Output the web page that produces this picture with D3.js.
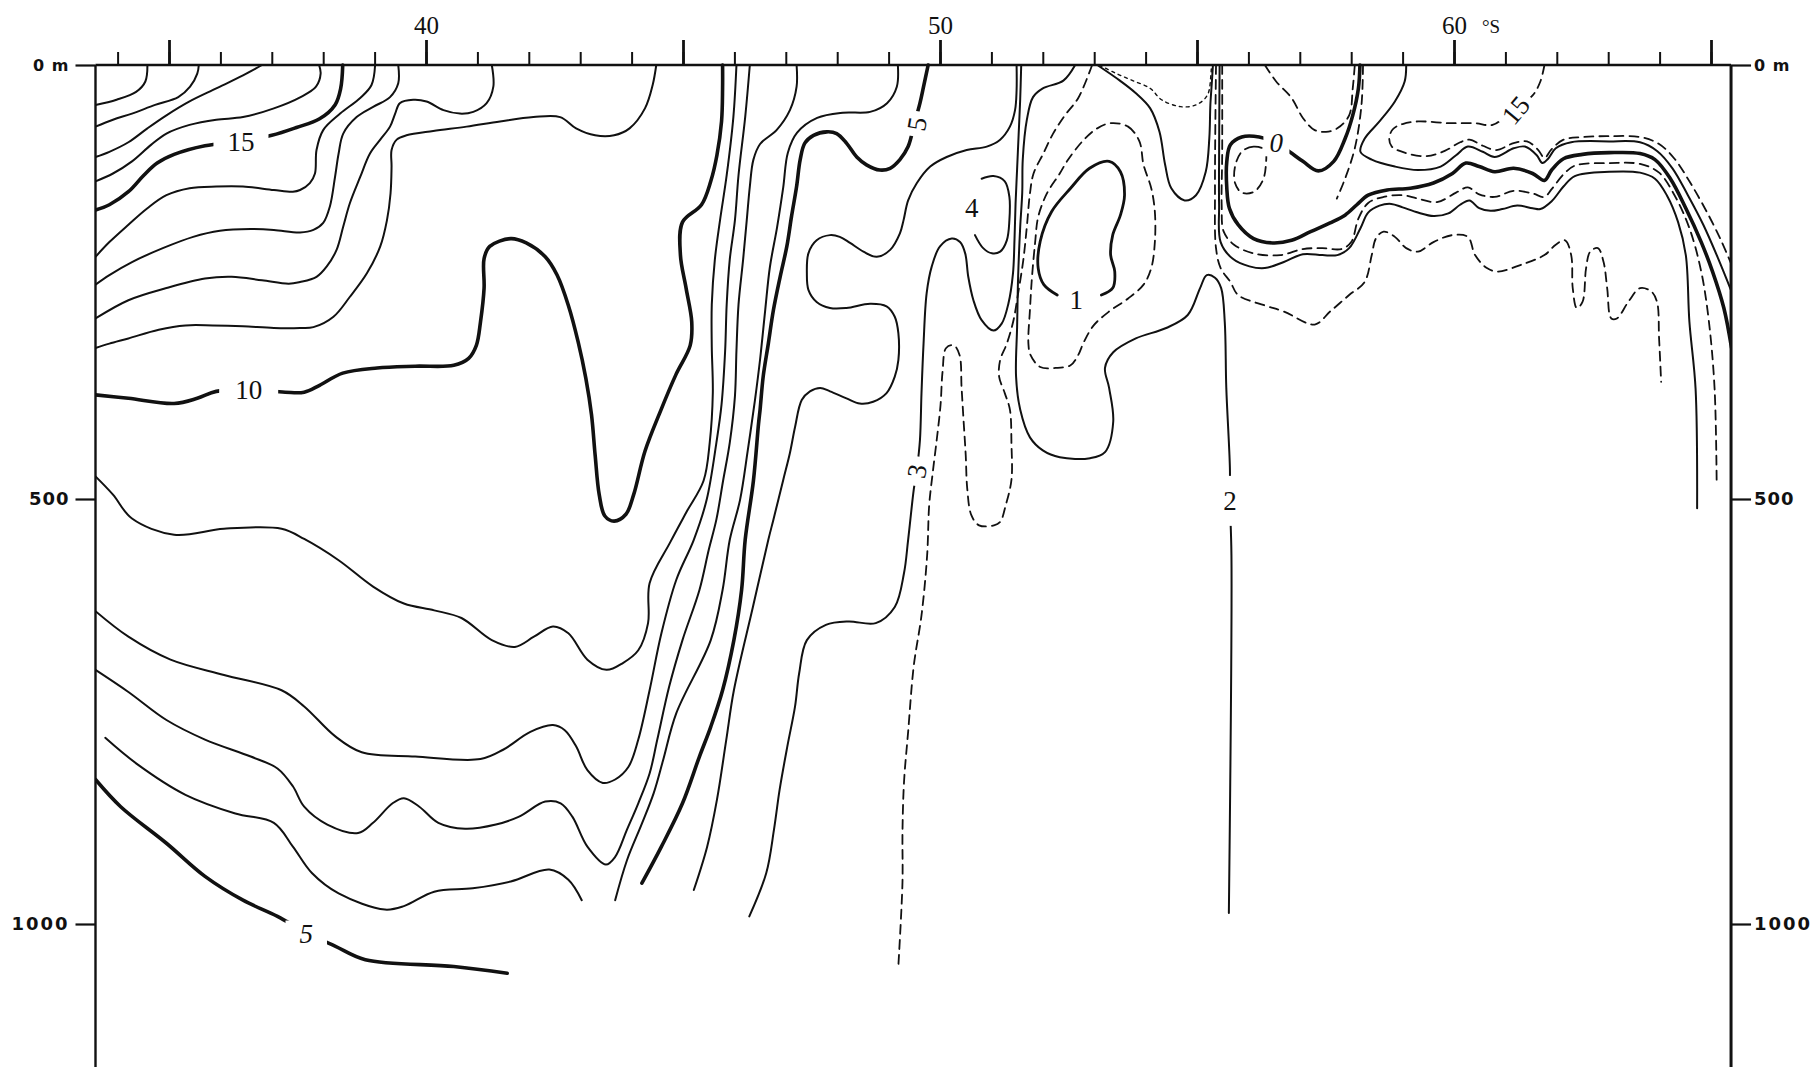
<!DOCTYPE html>
<html>
<head>
<meta charset="utf-8">
<title>Temperature section</title>
<script src="https://cdn.jsdelivr.net/npm/d3@7"></script>
<style>
  body { margin: 0; background: #fff; }
  svg { display: block; }
</style>
</head>
<body>
<div id="chart"></div>
<script>
// section limits and ticks
const latExtent = [33.57, 65.39]
const depthBottom = 1170
const minorLats = d3.range(34, 66)
const majorLats = [35, 40, 45, 50, 55, 60, 65]
const labelLats = [40, 50, 60]
const depthTicks = [0, 500, 1000]

const t19 = [[34.58,0],[34.54,19],[34.36,31],[33.98,40],[33.57,46]]
const t18 = [[35.58,0],[35.55,10],[35.41,25],[35.18,37],[34.73,46],[34.28,56],[33.91,63],[33.57,71]]
const t17 = [[36.81,0],[36.44,12],[35.92,27],[35.40,42],[34.95,58],[34.58,73],[34.21,89],[33.84,100],[33.57,106]]
const t16 = [[37.92,0],[37.95,10],[37.86,25],[37.56,37],[37.04,50],[36.44,60],[35.92,63],[35.40,69],[34.95,79],[34.65,92],[34.28,111],[33.91,125],[33.57,134]]
const t15 = [[38.38,0],[38.34,27],[38.23,46],[37.93,62],[37.48,72],[37.00,81],[36.40,88],[35.70,93],[35.10,103],[34.77,113],[34.51,127],[34.21,146],[33.84,161],[33.57,167]]
const t14 = [[39.01,0],[38.94,23],[38.72,38],[38.33,56],[38.00,75],[37.87,98],[37.84,125],[37.74,136],[37.55,144],[37.41,146],[37.04,144],[36.44,140],[35.92,140],[35.40,142],[34.95,150],[34.58,165],[34.21,184],[33.84,204],[33.57,221]]
const t13 = [[39.46,0],[39.46,21],[39.30,37],[38.98,48],[38.65,60],[38.39,79],[38.30,102],[38.23,129],[38.13,163],[38.00,182],[37.81,190],[37.55,193],[37.04,190],[36.59,189],[35.99,191],[35.47,198],[34.88,211],[34.28,227],[33.84,242],[33.57,253]]
const t12 = [[41.28,0],[41.31,25],[41.18,44],[40.92,54],[40.66,56],[40.34,52],[40.01,42],[39.75,40],[39.49,44],[39.40,56],[39.30,71],[39.11,86],[38.91,102],[38.72,129],[38.52,159],[38.39,186],[38.26,213],[38.07,232],[37.87,244],[37.55,250],[37.33,252],[36.81,248],[36.22,244],[35.70,246],[34.95,257],[34.21,271],[33.57,292]]
const t11 = [[44.48,0],[44.41,23],[44.26,50],[43.96,73],[43.66,81],[43.29,81],[42.92,73],[42.61,60],[42.09,60],[41.44,65],[40.79,71],[40.14,76],[39.62,81],[39.43,86],[39.33,98],[39.33,117],[39.31,148],[39.24,179],[39.11,209],[38.85,240],[38.52,267],[38.20,290],[37.81,302],[37.55,303],[37.04,303],[36.44,301],[35.85,300],[35.32,300],[34.80,305],[34.21,315],[33.84,321],[33.57,326]]
const t10 = [[33.57,380],[34.21,384],[35.10,390],[35.55,384],[35.92,376],[36.55,374],[37.26,377],[37.63,377],[37.93,369],[38.38,355],[39.05,349],[39.79,347],[40.54,346],[40.83,338],[40.98,323],[41.06,296],[41.13,257],[41.13,223],[41.24,209],[41.65,200],[41.95,205],[42.32,221],[42.55,242],[42.77,277],[42.96,319],[43.11,361],[43.22,403],[43.29,449],[43.37,495],[43.48,520],[43.66,526],[43.89,518],[44.04,495],[44.26,445],[44.56,399],[44.86,357],[45.14,323],[45.17,296],[45.06,257],[44.95,219],[44.99,181],[45.36,161],[45.54,134],[45.66,104],[45.75,65],[45.77,27],[45.77,0]]
const t9 = [[46.04,0],[45.98,60],[45.85,127],[45.72,179],[45.62,224],[45.56,276],[45.56,325],[45.58,378],[45.52,435],[45.40,479],[45.07,515],[44.75,551],[44.35,599],[44.32,646],[44.13,678],[43.83,693],[43.51,701],[43.14,689],[42.77,658],[42.47,650],[42.10,662],[41.73,674],[41.28,666],[40.69,640],[40.16,631],[39.57,623],[38.97,603],[38.30,572],[37.63,547],[37.19,535],[36.07,535],[35.10,542],[34.28,523],[33.91,495],[33.57,474]]
const t8 = [[46.30,0],[46.21,60],[46.08,127],[46.01,179],[45.91,224],[45.85,276],[45.82,329],[45.75,391],[45.65,435],[45.46,501],[45.21,548],[44.87,595],[44.58,658],[44.35,725],[44.13,783],[43.94,815],[43.68,830],[43.44,834],[43.14,819],[42.92,791],[42.70,772],[42.47,766],[42.03,774],[41.50,795],[41.06,806],[39.79,803],[38.75,798],[38.23,779],[37.63,744],[37.19,725],[36.07,707],[35.03,689],[34.21,662],[33.57,632]]
const t7 = [[47.21,0],[47.21,25],[47.08,52],[46.82,75],[46.50,91],[46.37,109],[46.30,140],[46.24,179],[46.17,224],[46.08,276],[46.04,329],[46.01,382],[45.91,435],[45.78,479],[45.65,524],[45.50,560],[45.32,607],[44.99,666],[44.73,721],[44.50,783],[44.35,823],[44.13,858],[43.91,889],[43.68,921],[43.50,930],[43.14,909],[42.85,874],[42.62,858],[42.32,856],[41.80,874],[41.36,883],[40.76,888],[40.24,881],[39.87,862],[39.57,852],[39.35,858],[38.97,881],[38.68,893],[38.08,883],[37.63,862],[37.41,838],[37.11,817],[36.59,803],[35.70,783],[34.95,760],[34.21,727],[33.57,701]]
const t6 = [[49.18,0],[49.16,25],[48.97,44],[48.64,54],[48.11,55],[47.61,61],[47.22,78],[47.04,101],[46.95,141],[46.83,187],[46.69,233],[46.60,282],[46.50,339],[46.40,386],[46.26,444],[46.11,501],[45.91,548],[45.77,607],[45.54,666],[44.87,752],[44.61,808],[44.43,846],[44.20,882],[43.91,925],[43.68,972]]
const t6West = [[33.76,781],[34.36,811],[35.32,848],[36.29,870],[37.04,881],[37.41,909],[37.78,940],[38.30,964],[39.20,983],[39.57,979],[40.16,962],[40.91,958],[41.65,950],[42.40,936],[42.77,948],[43.03,972]]
const t5 = [[49.77,0],[49.68,25],[49.61,44],[49.50,68],[49.38,94],[49.22,109],[49.03,119],[48.83,121],[48.57,115],[48.38,106],[48.18,90],[47.99,79],[47.80,77],[47.54,81],[47.37,90],[47.28,109],[47.21,140],[47.11,175],[47.02,209],[46.89,244],[46.76,282],[46.66,321],[46.56,359],[46.50,397],[46.47,413],[46.37,479],[46.21,548],[46.14,607],[45.99,666],[45.77,725],[45.54,768],[45.32,803],[44.99,858],[44.58,909],[44.20,952]]
const t5West = [[33.57,830],[34.06,862],[34.95,905],[35.70,944],[36.44,972],[37.11,991],[37.67,1010],[38.23,1026],[38.82,1042],[40.54,1050],[41.58,1058]]
const t4 = [[51.49,0],[51.49,29],[51.46,52],[51.36,71],[51.17,86],[50.91,94],[50.52,98],[50.13,106],[49.81,117],[49.55,136],[49.38,156],[49.29,179],[49.22,194],[49.03,213],[48.77,221],[48.51,215],[48.25,205],[48.05,198],[47.86,196],[47.60,202],[47.44,217],[47.41,240],[47.44,259],[47.60,273],[47.86,280],[48.18,280],[48.64,275],[48.96,278],[49.12,290],[49.19,309],[49.19,340],[49.12,359],[48.96,378],[48.70,388],[48.44,390],[48.18,384],[47.86,376],[47.67,372],[47.47,376],[47.31,386],[47.18,417],[47.08,447],[46.95,478],[46.76,524],[46.66,548],[46.36,627],[45.99,725],[45.84,784],[45.66,854],[45.47,909],[45.21,960]]
const t4Cell = [[50.81,131],[51.04,128],[51.26,134],[51.35,152],[51.35,179],[51.30,202],[51.17,215],[51.01,217],[50.84,211],[50.68,196]]
const t3 = [[46.29,991],[46.62,940],[46.77,889],[46.88,842],[47.03,791],[47.18,744],[47.26,705],[47.41,666],[47.78,648],[48.22,644],[48.75,646],[49.12,627],[49.30,587],[49.38,548],[49.49,489],[49.55,466],[49.61,432],[49.64,378],[49.68,321],[49.74,263],[49.84,232],[50.00,209],[50.23,200],[50.39,204],[50.49,217],[50.55,244],[50.65,271],[50.81,294],[51.04,306],[51.20,298],[51.33,275],[51.42,240],[51.45,200],[51.47,160],[51.50,120],[51.53,80],[51.56,40],[51.58,0]]
const t2 = [[52.63,0],[52.40,18],[52.00,27],[51.81,37],[51.69,63],[51.61,109],[51.60,147],[51.56,187],[51.52,244],[51.50,302],[51.48,359],[51.56,397],[51.75,429],[52.00,444],[52.33,452],[52.92,453],[53.21,446],[53.37,411],[53.29,372],[53.21,349],[53.37,331],[53.81,315],[54.40,303],[54.82,288],[55.06,257],[55.19,242],[55.35,245],[55.47,257],[55.54,296],[55.57,372],[55.64,464],[55.64,502],[55.67,566],[55.62,987]]
const t2Half = [[52.96,0],[52.69,38],[52.43,58],[52.20,79],[52.01,102],[51.82,125],[51.75,148],[51.69,186],[51.62,225],[51.52,263],[51.43,294],[51.30,321],[51.17,340],[51.15,359],[51.26,378],[51.36,397],[51.39,436],[51.39,478],[51.28,507],[51.17,527],[51.05,531],[50.76,531],[50.61,519],[50.53,488],[50.50,449],[50.46,411],[50.42,372],[50.38,334],[50.27,323],[50.12,326],[50.05,353],[50.01,392],[49.94,430],[49.86,469],[49.79,507],[49.75,566],[49.64,637],[49.49,696],[49.38,774],[49.30,833],[49.27,892],[49.27,951],[49.19,1049]]
const t1 = [[52.28,265],[52.02,253],[51.91,234],[51.95,203],[52.17,169],[52.54,142],[52.91,119],[53.29,111],[53.51,123],[53.59,150],[53.51,173],[53.36,196],[53.32,219],[53.40,238],[53.36,257],[53.14,265]]
const t1Half = [[53.32,67],[53.66,71],[53.88,88],[53.96,115],[54.11,142],[54.18,169],[54.18,204],[54.11,234],[53.96,253],[53.66,269],[53.29,284],[52.99,300],[52.80,319],[52.69,334],[52.54,346],[52.25,349],[51.95,348],[51.76,334],[51.72,321],[51.75,282],[51.79,244],[51.85,205],[51.91,175],[52.08,148],[52.33,125],[52.47,111],[52.77,88],[53.06,73]]
const bump = [[53.06,0],[53.50,18],[53.80,32],[54.09,50],[54.27,77],[54.38,115],[54.50,142],[54.76,156],[54.98,150],[55.17,123],[55.24,84],[55.26,46],[55.29,19],[55.31,0]]
const bumpHalf = [[53.10,0],[53.40,9],[53.75,18],[54.09,27],[54.31,40],[54.68,48],[54.98,46],[55.20,35],[55.27,12],[55.28,0]]
const deepHalf = [[55.37,0],[55.35,142],[55.37,211],[55.46,234],[55.65,250],[55.80,265],[56.32,277],[56.69,284],[57.29,299],[57.59,284],[57.96,265],[58.26,250],[58.40,219],[58.48,200],[58.63,192],[58.85,198],[59.07,211],[59.30,215],[59.60,204],[59.97,196],[60.27,198],[60.41,219],[60.64,234],[60.86,238],[61.31,230],[61.76,219],[61.98,207],[62.16,202],[62.28,219],[62.31,257],[62.39,280],[62.50,273],[62.57,234],[62.65,215],[62.80,211],[62.91,227],[62.98,257],[63.06,292],[63.17,292],[63.39,273],[63.62,257],[63.84,261],[63.95,273],[63.99,315],[64.03,365]]
const frontLow = [[55.44,0],[55.43,104],[55.43,161],[55.46,204],[55.69,223],[56.02,232],[56.32,234],[56.69,227],[57.06,218],[57.44,219],[57.73,219],[57.96,211],[58.18,188],[58.33,170],[58.55,162],[58.78,160],[59.00,164],[59.30,170],[59.60,174],[59.89,171],[60.12,161],[60.30,156],[60.49,165],[60.71,168],[60.94,166],[61.23,162],[61.53,165],[61.68,166],[61.90,157],[62.13,140],[62.35,128],[63.02,123],[63.62,124],[63.91,131],[64.14,150],[64.36,181],[64.51,219],[64.58,296],[64.70,373],[64.73,511]]
const frontLowHalf = [[55.49,0],[55.49,104],[55.48,161],[55.52,192],[55.72,207],[56.10,217],[56.62,219],[57.06,212],[57.44,211],[57.81,212],[58.00,204],[58.14,177],[58.33,159],[58.63,152],[59.00,150],[59.30,154],[59.67,158],[60.04,147],[60.27,141],[60.49,149],[60.79,152],[61.16,145],[61.53,148],[61.76,152],[61.90,143],[62.13,126],[62.35,116],[63.02,113],[63.62,114],[63.99,124],[64.29,150],[64.58,188],[64.81,238],[64.96,296],[65.07,373],[65.11,480]]
const t0 = [[58.17,0],[58.14,27],[58.03,58],[57.88,85],[57.66,111],[57.36,122],[57.06,111],[56.80,100],[56.54,90],[56.21,83],[55.87,83],[55.65,92],[55.58,111],[55.58,142],[55.63,165],[55.80,184],[56.10,200],[56.47,205],[56.84,202],[57.21,192],[57.59,182],[57.88,173],[58.11,161],[58.33,150],[58.70,144],[59.15,142],[59.60,136],[59.97,125],[60.23,113],[60.49,117],[60.79,123],[61.16,119],[61.53,125],[61.76,133],[61.90,121],[62.13,108],[62.50,103],[63.02,101],[63.62,102],[63.91,109],[64.21,131],[64.51,165],[64.81,204],[65.03,238],[65.25,280],[65.40,326]]
const frontUp = [[59.07,0],[59.04,19],[58.85,42],[58.55,65],[58.26,85],[58.18,100],[58.40,109],[58.85,117],[59.30,121],[59.74,117],[60.04,104],[60.27,94],[60.56,100],[60.79,106],[61.16,96],[61.38,94],[61.61,104],[61.72,113],[61.83,108],[61.98,96],[62.28,89],[63.02,88],[63.62,89],[63.95,99],[64.25,119],[64.55,150],[64.85,184],[65.14,223],[65.40,261]]
const frontUpHalf = [[61.76,0],[61.68,19],[61.53,35],[61.12,53],[60.75,69],[60.41,67],[59.89,67],[59.30,65],[59.00,68],[58.81,74],[58.74,85],[58.79,94],[59.04,101],[59.45,105],[59.82,99],[60.12,89],[60.30,86],[60.56,93],[60.82,98],[61.16,90],[61.42,88],[61.64,98],[61.76,107],[61.90,97],[62.13,86],[62.50,83],[63.02,82],[63.62,83],[63.99,91],[64.29,108],[64.58,134],[64.88,165],[65.18,200],[65.40,230]]
const t0Vee = [[56.32,0],[56.54,19],[56.84,38],[57.06,61],[57.29,75],[57.51,77],[57.73,73],[57.96,58],[58.03,27],[58.07,0]]
const t0Edge = [[58.23,0],[58.20,46],[58.07,96],[57.88,131],[57.72,154]]
const t0Cell = [[56.32,98],[56.10,94],[55.87,100],[55.74,117],[55.74,136],[55.87,147],[56.11,146],[56.28,133],[56.34,115]]

// contour labels: text, latitude, depth
const isoLabels = [["15",36.40,88],["10",36.55,374],["5",49.55,68],["4",50.62,165],["3",49.55,468],["1",52.65,271],["2",55.64,502],["0",56.54,90],["15",61.20,52],["5",37.67,1011]]

const styles = {
  thin: { w: 2, dash: null },
  bold: { w: 3.6, dash: null },
  mid: { w: 2.8, dash: null },
  dash: { w: 1.8, dash: "9 6" },
  fine: { w: 1.4, dash: "3 4" }
}

const contours = [
  { pts: t19, kind: "thin" }, { pts: t18, kind: "thin" }, { pts: t17, kind: "thin" },
  { pts: t16, kind: "thin" }, { pts: t15, kind: "bold" }, { pts: t14, kind: "thin" },
  { pts: t13, kind: "thin" }, { pts: t12, kind: "thin" }, { pts: t11, kind: "thin" },
  { pts: t10, kind: "bold" }, { pts: t9, kind: "thin" }, { pts: t8, kind: "thin" },
  { pts: t7, kind: "thin" }, { pts: t6, kind: "thin" }, { pts: t6West, kind: "thin" },
  { pts: t5, kind: "bold" }, { pts: t5West, kind: "bold" }, { pts: t4, kind: "thin" },
  { pts: t4Cell, kind: "thin" }, { pts: t3, kind: "thin" }, { pts: t2, kind: "thin" },
  { pts: t2Half, kind: "dash" }, { pts: t1, kind: "mid" }, { pts: t1Half, kind: "dash", closed: true },
  { pts: bump, kind: "thin" }, { pts: bumpHalf, kind: "fine" }, { pts: deepHalf, kind: "dash" },
  { pts: frontLow, kind: "thin" }, { pts: frontLowHalf, kind: "dash" }, { pts: t0, kind: "bold" },
  { pts: frontUp, kind: "thin" }, { pts: frontUpHalf, kind: "dash" }, { pts: t0Vee, kind: "dash" },
  { pts: t0Edge, kind: "dash" }, { pts: t0Cell, kind: "dash", closed: true }
]

// rotation / italic / white gap around each label
const labelStyle = [
  { rot: 0, pad: 14 }, { rot: 0, pad: 16 }, { rot: -80, pad: 6 }, { rot: 0 },
  { rot: -80, pad: 8 }, { rot: 0 }, { rot: 0, pad: 4, padY: 12 },
  { rot: 0, italic: true, pad: 6 }, { rot: -50, pad: 6 }, { rot: 0, italic: true, pad: 14 }
]

const width = 1814, height = 1067
const ink = "#111"

const x = d3.scaleLinear().domain([40, 60]).range([426, 1454])
const y = d3.scaleLinear().domain([0, 500, 1000]).range([65, 499, 924])

const svg = d3.select("#chart").append("svg")
  .attr("width", width)
  .attr("height", height)
  .style("background", "#fff")

const xl = x(latExtent[0]), xr = x(latExtent[1])

svg.append("clipPath").attr("id", "plot")
  .append("rect")
  .attr("x", xl).attr("y", y(0) - 3)
  .attr("width", xr - xl).attr("height", y(depthBottom) - y(0) + 3)

const line = d3.line().x(d => x(d[0])).y(d => y(d[1])).curve(d3.curveCatmullRom.alpha(0.5))
const ring = d3.line().x(d => x(d[0])).y(d => y(d[1])).curve(d3.curveCatmullRomClosed.alpha(0.5))

// contour lines
const gLines = svg.append("g").attr("clip-path", "url(#plot)")
contours.forEach(c => {
  const s = styles[c.kind]
  gLines.append("path")
    .attr("d", c.closed ? ring(c.pts) : line(c.pts))
    .attr("fill", "none")
    .attr("stroke", ink)
    .attr("stroke-width", s.w)
    .attr("stroke-dasharray", s.dash)
    .attr("stroke-linecap", "round")
    .attr("stroke-linejoin", "round")
})

// labels sit in a white gap cut into their line
const gLab = svg.append("g")
isoLabels.forEach((l, i) => {
  const st = labelStyle[i]
  const g = gLab.append("g")
    .attr("transform", `translate(${x(l[1])},${y(l[2])}) rotate(${st.rot})`)
  const t = g.append("text")
    .text(l[0])
    .attr("text-anchor", "middle")
    .attr("dy", "0.34em")
    .attr("font-family", "'Liberation Serif', 'DejaVu Serif', serif")
    .attr("font-size", 27)
    .attr("font-style", st.italic ? "italic" : null)
    .attr("fill", ink)
  if (st.pad) {
    const b = t.node().getBBox()
    const py = st.padY || 0
    g.insert("rect", "text")
      .attr("x", b.x - st.pad).attr("y", b.y + 2 - py)
      .attr("width", b.width + 2 * st.pad).attr("height", b.height - 4 + 2 * py)
      .attr("fill", "#fff")
  }
})

// frame
svg.append("line")
  .attr("x1", xl).attr("x2", xr).attr("y1", y(0)).attr("y2", y(0))
  .attr("stroke", ink).attr("stroke-width", 2.4)
svg.append("line")
  .attr("x1", xl).attr("x2", xl).attr("y1", y(0)).attr("y2", y(depthBottom))
  .attr("stroke", ink).attr("stroke-width", 2.4)
svg.append("line")
  .attr("x1", xr).attr("x2", xr).attr("y1", y(0)).attr("y2", y(depthBottom))
  .attr("stroke", ink).attr("stroke-width", 3)

// latitude ticks along the surface
const gMinor = svg.append("g")
  .attr("transform", `translate(0,${y(0)})`)
  .call(d3.axisTop(x).tickValues(minorLats).tickSize(13).tickFormat(""))
const gMajor = svg.append("g")
  .attr("transform", `translate(0,${y(0)})`)
  .call(d3.axisTop(x).tickValues(majorLats).tickSize(25).tickPadding(6)
    .tickFormat(d => labelLats.includes(d) ? d : ""))

;[gMinor, gMajor].forEach(g => {
  g.select(".domain").remove()
  g.selectAll(".tick line").attr("stroke", ink).attr("stroke-width", 2)
})
gMajor.selectAll(".tick line").attr("stroke-width", 2.8)
gMajor.selectAll("text")
  .attr("font-family", "'Liberation Serif', serif")
  .attr("font-size", 25)
  .attr("fill", ink)

svg.append("text")
  .attr("x", x(60) + 28).attr("y", y(0) - 32)
  .attr("font-family", "'Liberation Serif', serif")
  .attr("font-size", 19)
  .attr("fill", ink)
  .text("°S")

// depth axes on both sides
const depthFmt = d => d === 0 ? "0 m" : d
const gLeft = svg.append("g")
  .attr("transform", `translate(${xl},0)`)
  .call(d3.axisLeft(y).tickValues(depthTicks).tickSize(20).tickPadding(6).tickFormat(depthFmt))
const gRight = svg.append("g")
  .attr("transform", `translate(${xr},0)`)
  .call(d3.axisRight(y).tickValues(depthTicks).tickSize(20).tickPadding(3).tickFormat(depthFmt))

;[gLeft, gRight].forEach(g => {
  g.select(".domain").remove()
  g.selectAll(".tick line").attr("stroke", ink).attr("stroke-width", 2.2)
  g.selectAll("text")
    .attr("font-family", "'DejaVu Sans', sans-serif")
    .attr("font-weight", "bold")
    .attr("font-size", d => d === 0 ? 16 : 18)
    .attr("letter-spacing", d => d === 1000 ? 2 : 1)
    .attr("fill", ink)
})
</script>
</body>
</html>
